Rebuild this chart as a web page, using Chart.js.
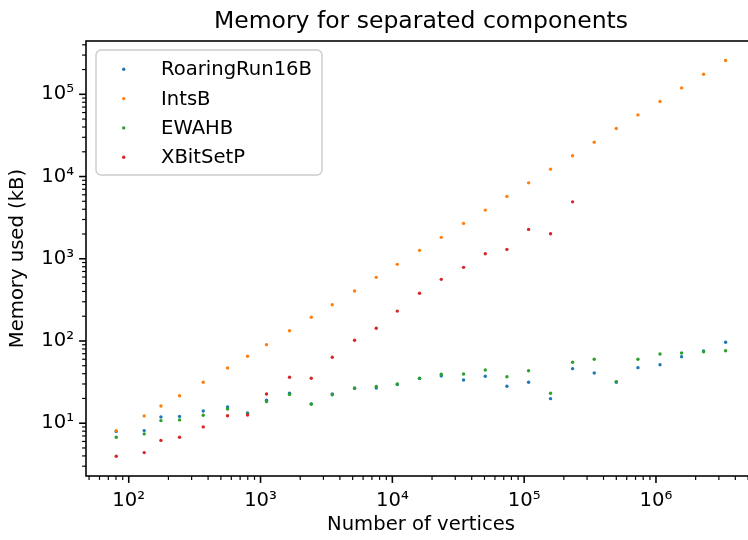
<!DOCTYPE html>
<html>
<head>
<meta charset="utf-8">
<script src="https://cdn.jsdelivr.net/npm/chart.js@4"></script>
<style>
  html, body { margin: 0; padding: 0; background: #fff; overflow: hidden; }
  #wrap { width: 770px; height: 540px; }
</style>
</head>
<body>
<div id="wrap"><canvas id="chart" width="770" height="540"></canvas></div>
<script>
// number of vertices (x), shared by all series
const vertices = [80.4, 131, 175.5, 243, 367.5, 562, 797, 1110, 1660, 2425, 3500, 5170, 7550,
  10900, 16080, 23500, 34700, 50700, 74000, 108000, 158600, 233000, 340000, 500000, 730000,
  1073000, 1564000, 2297000, 3375000];

// memory used in kB
const roaringRun16B = [7.95, 8.13, 11.9, 12.1, 14.1, 15.8, 13.3, 19.0, 23.1, 17.2, 22.7, 26.5, 26.8,
  29.6, 35.0, 37.6, 33.6, 37.2, 28.2, 31.5, 19.9, 46.1, 40.8, 31.5, 47.4, 51.5, 64.4, 75.6, 96.4];
const intsB = [8.13, 12.27, 16.2, 21.6, 31.5, 47, 65.2, 90.2, 133.4, 194, 276, 405, 594,
  855, 1265, 1820, 2690, 3905, 5730, 8380, 12300, 17860, 26180, 38400, 56200, 81700, 119700, 175500, 257500];
const ewahB = [6.76, 7.41, 10.75, 10.97, 12.5, 14.9, 13.0, 18.3, 22.3, 17.0, 22.2, 26.8, 28.0,
  30.0, 35.2, 39.4, 39.7, 44.4, 36.8, 43.5, 23.1, 55.1, 59.9, 32.0, 59.9, 69.5, 71.5, 74.1, 76.2];
const xBitSetP = [3.97, 4.39, 6.18, 6.76, 9.02, 12.3, 12.6, 22.7, 36.2, 35.2, 63.4, 102, 142.6,
  231, 380, 562, 786, 1150, 1300, 2275, 2013, 4925];

const seriesNames = ["RoaringRun16B", "IntsB", "EWAHB", "XBitSetP"];
const seriesColors = ["#1f77b4", "#ff7f0e", "#2ca02c", "#d62728"];

// tick labels for the decades
const xMajorTicks = [1e2, 1e3, 1e4, 1e5, 1e6];
const xTickLabels = ["10²", "10³", "10⁴", "10⁵", "10⁶"];
const yMajorTicks = [1e1, 1e2, 1e3, 1e4, 1e5];
const yTickLabels = ["10¹", "10²", "10³", "10⁴", "10⁵"];

const X_MIN = 47.4, X_MAX = 5.74e6;
const Y_MIN = 2.28, Y_MAX = 4.45e5;

const FONT = "DejaVu Sans";

function logTicks(min, max) {
  const out = [];
  for (let e = Math.floor(Math.log10(min)); e <= Math.ceil(Math.log10(max)); e++) {
    for (let m = 1; m < 10; m++) {
      const v = m * Math.pow(10, e);
      if (v >= min && v <= max) out.push(v);
    }
  }
  return out;
}

function isDecade(v) {
  const l = Math.log10(v);
  return Math.abs(l - Math.round(l)) < 1e-9;
}

function points(ys) {
  return ys.map((y, i) => ({ x: vertices[i], y: y }));
}

const allSeries = [roaringRun16B, intsB, ewahB, xBitSetP];

const datasets = allSeries.map((ys, i) => ({
  label: seriesNames[i],
  data: points(ys),
  backgroundColor: seriesColors[i],
  borderWidth: 0,
  pointRadius: 1.7,
  order: 4 - i,
}));

// ticks, frame, title and legend the matplotlib way
const decor = {
  id: "decor",
  afterDatasetsDraw(chart) {
    const ctx = chart.ctx;
    const { left, right, top, bottom } = chart.chartArea;
    const xs = chart.scales.x, ys = chart.scales.y;
    ctx.save();
    ctx.strokeStyle = "#000";

    xs.ticks.forEach((t) => {
      const px = xs.getPixelForValue(t.value);
      const major = isDecade(t.value);
      ctx.lineWidth = major ? 1.57 : 1.18;
      ctx.beginPath();
      ctx.moveTo(px, bottom);
      ctx.lineTo(px, bottom + (major ? 6.9 : 3.9));
      ctx.stroke();
    });
    ys.ticks.forEach((t) => {
      const py = ys.getPixelForValue(t.value);
      const major = isDecade(t.value);
      ctx.lineWidth = major ? 1.57 : 1.18;
      ctx.beginPath();
      ctx.moveTo(left, py);
      ctx.lineTo(left - (major ? 6.9 : 3.9), py);
      ctx.stroke();
    });

    ctx.lineWidth = 1.57;
    ctx.strokeRect(left, top, right - left, bottom - top);

    // title
    ctx.fillStyle = "#000";
    ctx.font = "23.5px '" + FONT + "'";
    ctx.textAlign = "center";
    ctx.textBaseline = "alphabetic";
    ctx.fillText("Memory for separated components", (left + right) / 2, 28);

    // legend
    const bx = 96, by = 50, bw = 226, bh = 125, r = 5;
    ctx.beginPath();
    ctx.roundRect(bx, by, bw, bh, r);
    ctx.fillStyle = "rgba(255,255,255,0.8)";
    ctx.fill();
    ctx.strokeStyle = "#cccccc";
    ctx.lineWidth = 1.4;
    ctx.stroke();

    ctx.font = "19.6px '" + FONT + "'";
    ctx.textAlign = "left";
    ctx.textBaseline = "middle";
    chart.data.datasets.forEach((ds, i) => {
      const ry = 69.3 + i * 29.3;
      ctx.fillStyle = ds.backgroundColor;
      ctx.beginPath();
      ctx.arc(123.7, ry, 1.7, 0, Math.PI * 2);
      ctx.fill();
      ctx.fillStyle = "#000";
      ctx.fillText(ds.label, 161, ry + 1);
    });
    ctx.restore();
  },
};

new Chart(document.getElementById("chart"), {
  type: "scatter",
  data: { datasets: datasets },
  plugins: [decor],
  options: {
    responsive: false,
    animation: false,
    devicePixelRatio: 1,
    events: [],
    layout: { padding: { top: 41, left: 0, right: 14, bottom: 0 } },
    plugins: {
      legend: { display: false },
      tooltip: { enabled: false },
      title: { display: false },
    },
    scales: {
      x: {
        type: "logarithmic",
        min: X_MIN,
        max: X_MAX,
        afterFit: (scale) => { scale.height = 64; },
        afterBuildTicks: (scale) => {
          scale.ticks = logTicks(X_MIN, X_MAX).map((v) => ({ value: v }));
        },
        ticks: {
          autoSkip: false,
          maxRotation: 0,
          padding: 6,
          color: "#000",
          font: { family: FONT, size: 19.6 },
          callback: (v) => {
            const k = xMajorTicks.findIndex((m) => Math.abs(m - v) / m < 1e-9);
            return k >= 0 ? xTickLabels[k] : "";
          },
        },
        grid: { display: true, drawOnChartArea: false, drawTicks: true, tickLength: 7, color: "rgba(0,0,0,0)" },
        border: { display: false },
        title: {
          display: true,
          text: "Number of vertices",
          color: "#000",
          font: { family: FONT, size: 19.6 },
          padding: { top: 0, bottom: 3 },
        },
      },
      y: {
        type: "logarithmic",
        min: Y_MIN,
        max: Y_MAX,
        afterFit: (scale) => { scale.width = 86; },
        afterBuildTicks: (scale) => {
          scale.ticks = logTicks(Y_MIN, Y_MAX).map((v) => ({ value: v }));
        },
        ticks: {
          autoSkip: false,
          padding: 5,
          color: "#000",
          font: { family: FONT, size: 19.6 },
          callback: (v) => {
            const k = yMajorTicks.findIndex((m) => Math.abs(m - v) / m < 1e-9);
            return k >= 0 ? yTickLabels[k] : "";
          },
        },
        grid: { display: true, drawOnChartArea: false, drawTicks: true, tickLength: 7, color: "rgba(0,0,0,0)" },
        border: { display: false },
        title: {
          display: true,
          text: "Memory used (kB)",
          color: "#000",
          font: { family: FONT, size: 19.6 },
          padding: { top: 6, bottom: 0 },
        },
      },
    },
  },
});
</script>
</body>
</html>
